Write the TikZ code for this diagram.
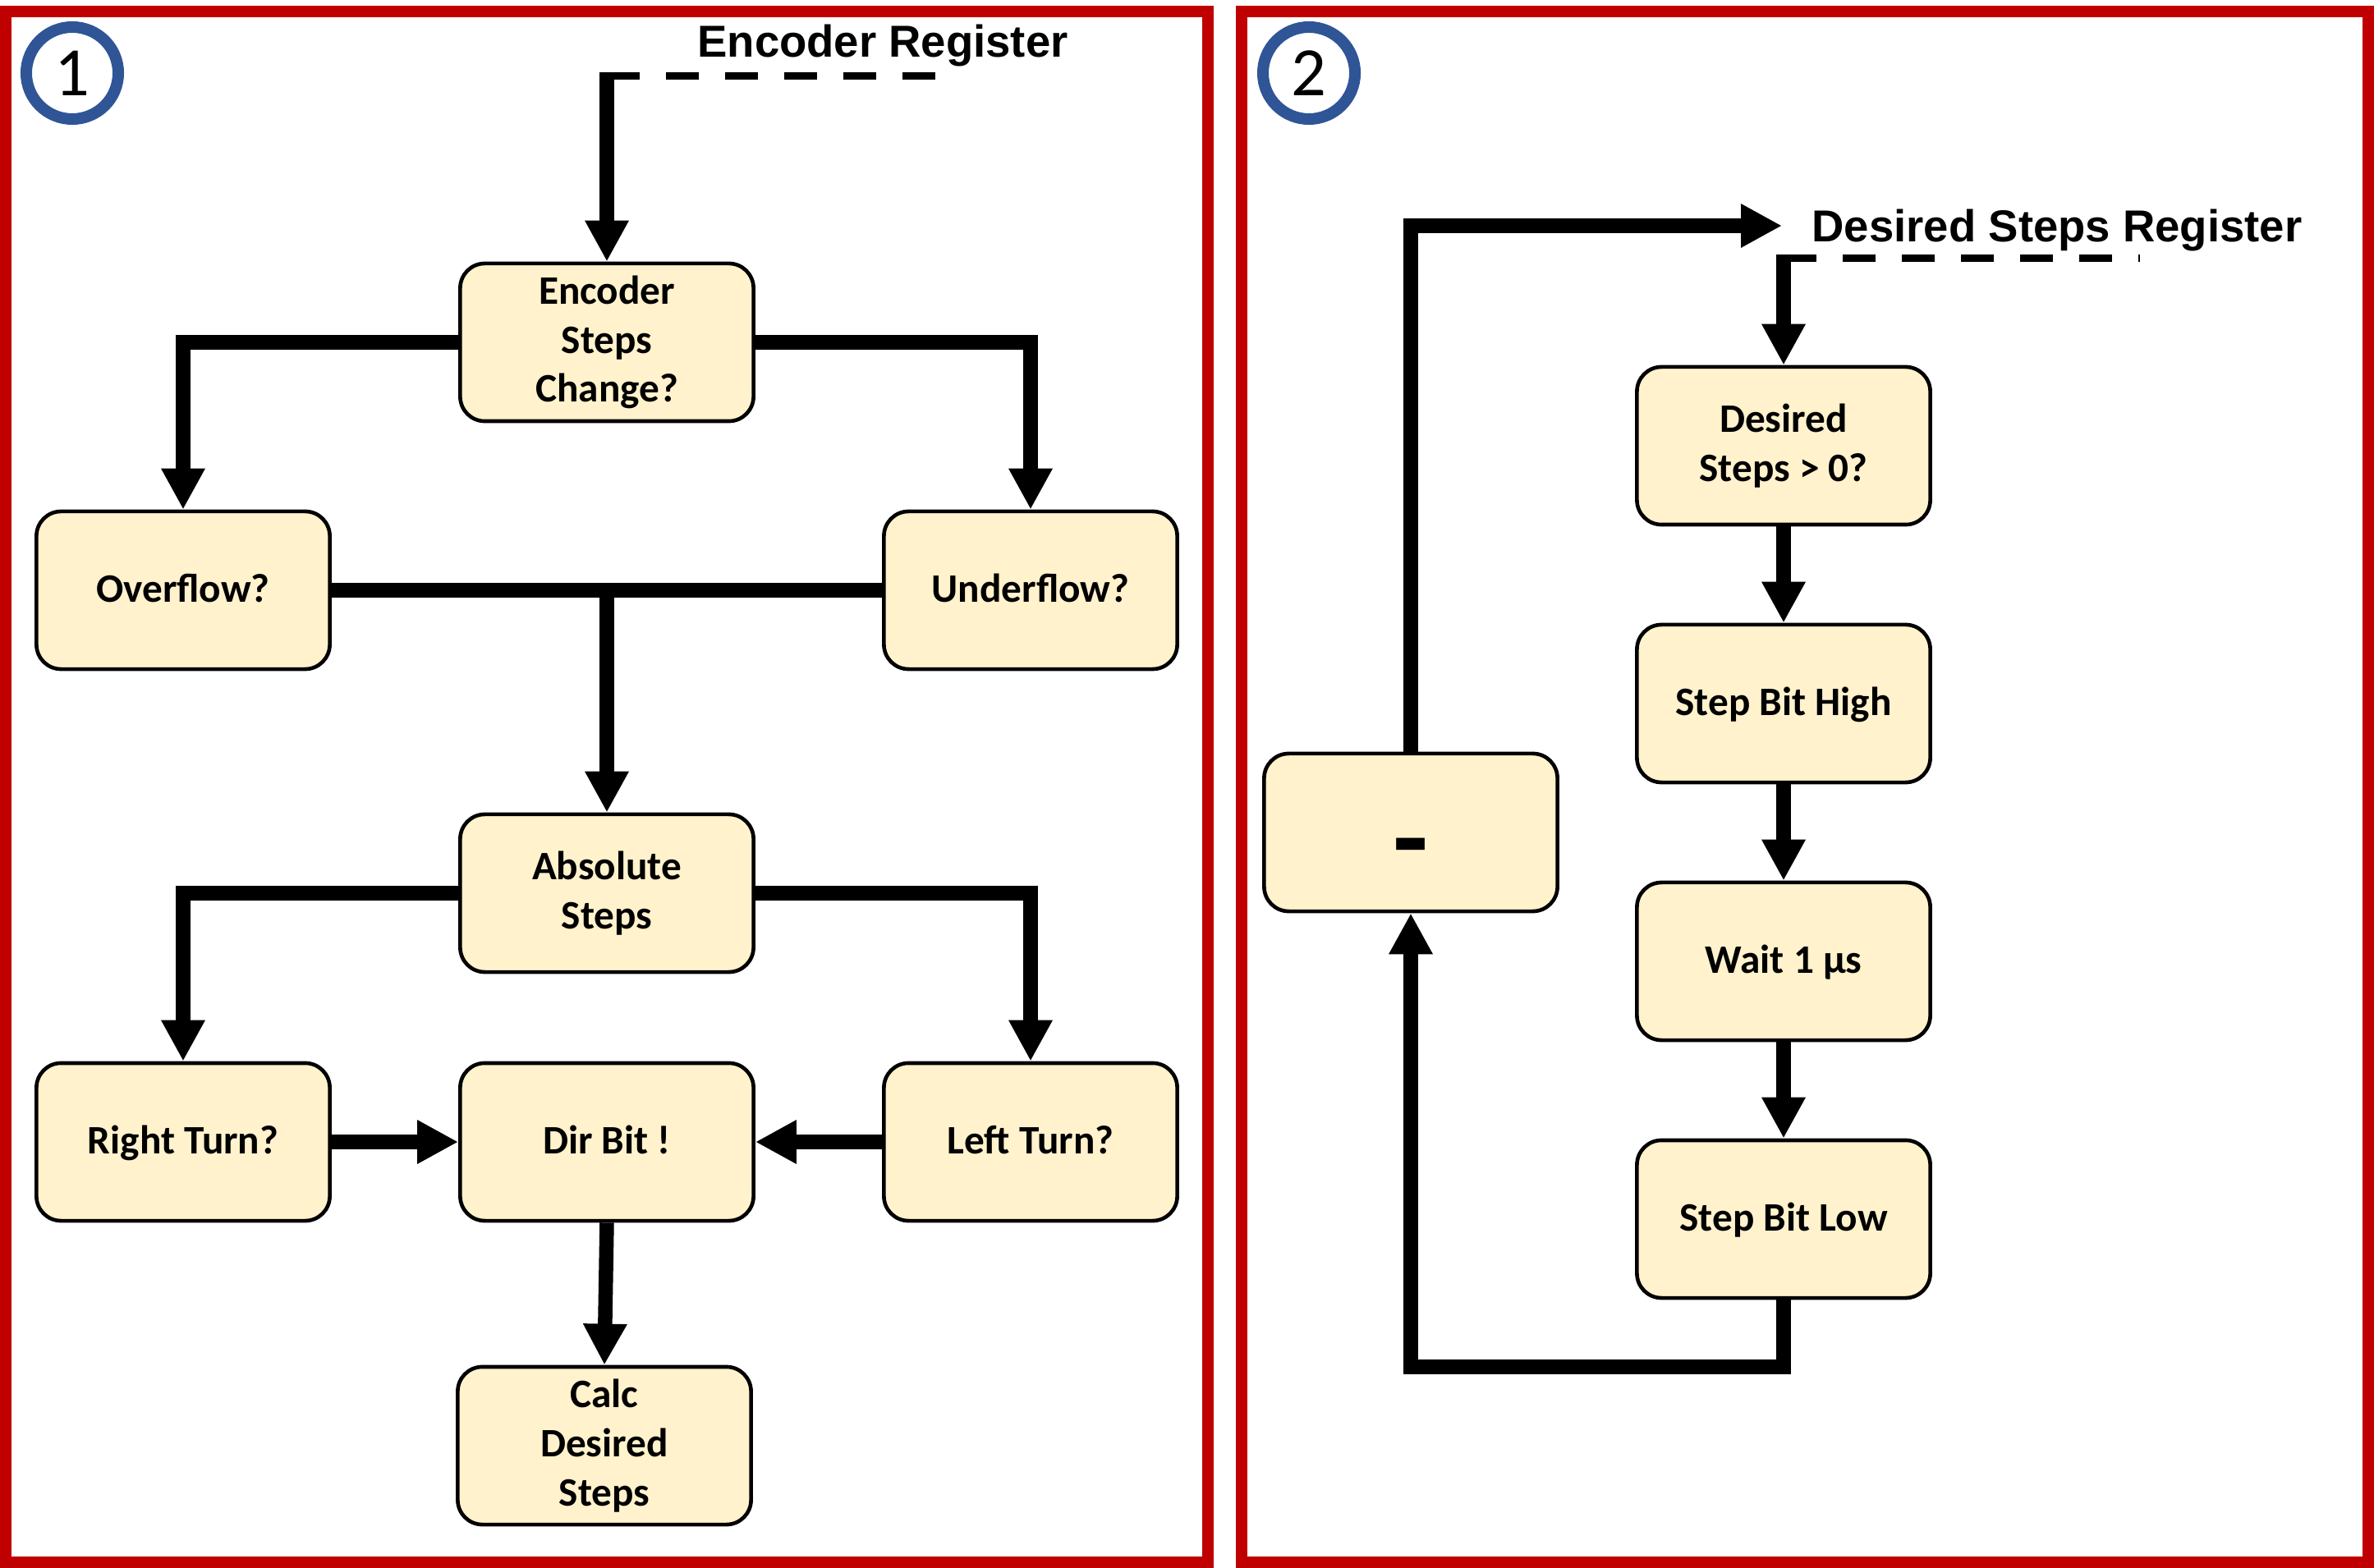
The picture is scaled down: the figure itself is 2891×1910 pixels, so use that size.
\documentclass[tikz,border=0pt]{standalone}
\usepackage{fontspec}
\setmainfont{Carlito}
\newfontfamily\regfont{Liberation Sans}
\usetikzlibrary{arrows.meta}
\definecolor{framered}{RGB}{192,0,0}
\definecolor{numblue}{RGB}{47,85,151}
\definecolor{boxfill}{RGB}{255,242,204}
\begin{document}
\begin{tikzpicture}[x=0.01cm,y=-0.01cm,
box/.style={draw=black,line width=0.046cm,fill=boxfill,rounded corners=0.3cm,minimum width=3.57cm,minimum height=1.92cm,inner sep=0pt,align=center,font=\bfseries\fontsize{14}{17}\selectfont},
onebox/.style={box,text height=0.95em,text depth=0.1em},
flow/.style={line width=0.175cm,-{Triangle[length=0.5cm,width=0.5cm]}},
link/.style={line width=0.175cm},
regline/.style={line width=0.09cm,dash pattern=on 0.4cm off 0.32cm},
frame/.style={draw=framered,line width=0.14cm},
numcirc/.style={circle,draw=numblue,line width=0.14cm,minimum size=1.12cm,inner sep=0pt,font=\fontsize{24}{24}\selectfont},
reglabel/.style={anchor=base,font=\regfont\bfseries\fontsize{15.5}{18}\selectfont}]
\useasboundingbox (0,0) rectangle (2891,1910);
\foreach \xa/\xb in {7/1471,1512/2884} {
   \draw[frame] (\xa,14) rectangle (\xb,1903);
}
\foreach \n/\x in {1/88,2/1594} {
   \node[numcirc] (num\n) at (\x,89) {\n};
}
\node[box] (enc) at (739,417) {Encoder\\Steps\\Change?};
\node[onebox] (ovf) at (223,719) {Overflow?};
\node[onebox] (unf) at (1255,719) {Underflow?};
\node[box] (abs) at (739,1088) {Absolute\\Steps};
\node[onebox] (rturn) at (223,1391) {Right Turn?};
\node[onebox] (dirbit) at (739,1391) {Dir Bit !};
\node[onebox] (lturn) at (1255,1391) {Left Turn?};
\node[box] (calc) at (736,1761) {Calc\\Desired\\Steps};
\node[reglabel] (encreg) at (1075,70) {Encoder Register};
\coordinate (encend) at (1171,93);
\draw[regline] (encend -| enc.north) -- (encend);
\draw[flow] (encend -| enc.north) ++(0,-4.5) -- (enc.north);
\draw[flow] (enc.west) -| (ovf.north);
\draw[flow] (enc.east) -| (unf.north);
\draw[link] (ovf.east) -- (unf.west);
\draw[flow] (abs.north |- ovf.east) -- (abs.north);
\draw[flow] (abs.west) -| (rturn.north);
\draw[flow] (abs.east) -| (lturn.north);
\draw[flow] (rturn.east) -- (dirbit.west);
\draw[flow] (lturn.west) -- (dirbit.east);
\draw[flow] (dirbit.south) -- (calc.north);
\node[box] (desired) at (2172,543) {Desired\\Steps > 0?};
\node[onebox] (high) at (2172,857) {Step Bit High};
\node[onebox] (wait) at (2172,1171) {Wait 1 µs};
\node[onebox] (low) at (2172,1485) {Step Bit Low};
\node[onebox] (minus) at (1718,1014) {\raisebox{-0.4cm}{\fontsize{40}{40}\selectfont -}};
\node[reglabel] (dsrreg) at (2505,295) {Desired Steps Register};
\coordinate (dsrend) at (2606,315);
\coordinate (dsrtip) at (2170,275);
\coordinate (loopbot) at (1718,1665);
\draw[regline] (dsrend -| desired.north) -- (dsrend);
\draw[flow] (dsrend -| desired.north) ++(0,-4.5) -- (desired.north);
\foreach \a/\b in {desired/high,high/wait,wait/low} {
   \draw[flow] (\a.south) -- (\b.north);
}
\draw[flow] (low.south) |- (loopbot) -- (minus.south);
\draw[flow] (minus.north) |- (dsrtip);
\end{tikzpicture}
\end{document}
